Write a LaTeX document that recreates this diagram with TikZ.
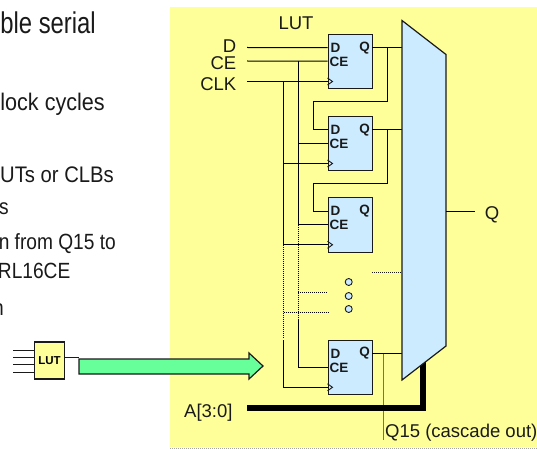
\documentclass[tikz,border=0pt]{standalone}
\usepackage{fontspec}
\setmainfont{Liberation Sans}
\newfontfamily\sidea[FakeStretch=0.795]{Liberation Sans}
\newfontfamily\sideb[FakeStretch=0.90]{Liberation Sans}
\newfontfamily\sidec[FakeStretch=0.87]{Liberation Sans}
\usetikzlibrary{calc}
\definecolor{bgyellow}{HTML}{FFFF99}
\definecolor{paleblue}{HTML}{CCEBFF}
\definecolor{arrowgreen}{HTML}{66FF99}
\definecolor{olivewire}{HTML}{77774A}
\definecolor{inkdark}{HTML}{1A1A1A}
\tikzset{
  x=1pt,y=-1pt,
  ffbox/.style={draw=inkdark,line width=1.2pt,fill=paleblue,minimum width=44.5pt,minimum height=54.5pt,inner sep=0pt,anchor=north west},
  wire/.style={draw=black,line width=1pt},
  dotwire/.style={draw=black,line width=1pt,dash pattern=on 1pt off 1pt},
  pinlabel/.style={font=\fontsize{13.5}{13.5}\selectfont\bfseries,inner sep=0pt,text=inkdark},
  biglabel/.style={font=\fontsize{18.5}{19}\selectfont,inner sep=0pt,text=inkdark},
  sidetext/.style={inner sep=0pt,anchor=base east,text=inkdark},
  dotcircle/.style={circle,draw=inkdark,line width=0.9pt,fill=paleblue,minimum size=7pt,inner sep=0pt},
}
\begin{document}
\begin{tikzpicture}
\useasboundingbox (0,0) rectangle (537,449);
\fill[white] (0,0) rectangle (537,449);
\fill[bgyellow] (170,7) rectangle (537,447);
\draw[gray!70,line width=0.8pt,dash pattern=on 1pt off 1pt] (170,448) -- (537,448);

% left text
\node[sidetext,font=\sidea\fontsize{30}{30}\selectfont] (t1) at (96,34) {ble serial};
\node[sidetext,font=\sideb\fontsize{24}{24}\selectfont] (t2) at (105,111) {lock cycles};
\node[sidetext,font=\sideb\fontsize{22.5}{23}\selectfont] (t3) at (114,182) {UTs or CLBs};
\node[sidetext,font=\sidec\fontsize{22}{23}\selectfont] (t4) at (9,214) {s};
\node[sidetext,font=\sidec\fontsize{22}{23}\selectfont] (t5) at (116,249) {n from Q15 to};
\node[sidetext,font=\sidec\fontsize{22}{23}\selectfont] (t6) at (70.5,278) {RL16CE};
\node[sidetext,font=\sidec\fontsize{22}{23}\selectfont] (t7) at (4,315) {n};

% small LUT
\coordinate (i1) at (13,350);
\coordinate (i2) at (13,357);
\coordinate (i3) at (13,364);
\coordinate (i4) at (13,372);
\coordinate (lo) at (79,357);
\node[draw=inkdark,line width=1.2pt,fill=bgyellow,minimum width=30pt,minimum height=37pt,inner sep=0pt,font=\fontsize{11.5}{12}\selectfont\bfseries] (lut) at (49.5,360.5) {LUT};
\foreach \c in {i1,i2,i3,i4} \draw[draw=inkdark,line width=0.8pt] (\c) -- (\c -| lut.west);
\draw[draw=inkdark,line width=0.8pt] (lo -| lut.east) -- (lo);

% green arrow
\draw[draw=inkdark,line width=1.2pt,fill=arrowgreen] (79,359) -- (249,359) -- (249,353) -- (263,366) -- (249,379) -- (249,374) -- (79,374) -- cycle;

% inputs
\node[biglabel,anchor=base east] (dl) at (236.5,53) {D};
\node[biglabel,anchor=base east] (cel) at (236.5,70) {CE};
\node[biglabel,anchor=base east] (clkl) at (236.5,91) {CLK};
\node[biglabel,anchor=base] (lutl) at (296,29.5) {LUT};
\coordinate (dsrc) at (247,47.5);
\coordinate (cesrc) at (247,61);
\coordinate (clksrc) at (247,81.5);

% mux
\coordinate (m1) at (402,20.5);
\coordinate (m2) at (446,54.5);
\coordinate (m3) at (446,346);
\coordinate (m4) at (402,380);
\coordinate (qout) at (475,211);
\coordinate (q15end) at (383,440);
\coordinate (asrc) at (247,408);
\coordinate (acorner) at (423,408);
\coordinate (mtap) at (423,361);

% flip flops
\foreach \n/\yy in {1/33.7,2/115.7,3/197,4/339.5}{
  \node[ffbox] (ff\n) at (327.5,\yy) {};
  \coordinate (ff\n d) at (327.5,\yy+14);
  \coordinate (ff\n ce) at (327.5,\yy+27.5);
  \coordinate (ff\n clk) at (327.5,\yy+47.8);
  \coordinate (ff\n q) at (372,\yy+14);
  \node[pinlabel] (ff\n dl) at (335.5,\yy+14) {D};
  \node[pinlabel] (ff\n cl) at (339,\yy+28) {CE};
  \node[pinlabel] (ff\n ql) at (364.5,\yy+14) {Q};
  \draw[draw=inkdark,line width=0.9pt] (327.5,\yy+44.3) -- (332.5,\yy+47.8) -- (327.5,\yy+51.3);
}

\draw[wire] (dsrc) -- (ff1d);
\draw[wire] (cesrc) -- (ff1ce);
\draw[wire] (clksrc) -- (ff1clk);

% CE bus and CLK bus
\coordinate (cebus) at (298,61);
\coordinate (clkbus) at (283.5,81.5);
\draw[wire] (cebus) -- (cebus |- ff3ce);
\draw[wire] (clkbus) -- (clkbus |- ff3clk);
\draw[wire] (cebus |- ff2ce) -- (ff2ce);
\draw[wire] (clkbus |- ff2clk) -- (ff2clk);
\draw[wire] (cebus |- ff3ce) -- (ff3ce);
\draw[wire] (clkbus |- ff3clk) -- (ff3clk);
\draw[dotwire] (cebus |- ff3ce) -- (298,319);
\draw[dotwire] (clkbus |- ff3clk) -- (283.5,338);
\draw[wire] (298,320) |- (ff4ce);
\draw[wire] (283.5,340) |- (ff4clk);
\draw[dotwire] (298,292) -- (327,292);
\draw[dotwire] (283.5,312) -- (328,312);

% Q chain
\draw[wire] (ff1q) -- (ff1q -| m1);
\draw[wire] (ff2q) -- (ff2q -| m1);
\draw[wire] (ff4q) -- (ff4q -| m1);
\draw[wire] (387,47.7) -- (387,102) -- (313,102) |- (ff2d);
\draw[wire] (387,129.7) -- (387,183.5) -- (313,183.5) |- (ff3d);
\draw[dotwire,draw=inkdark] (372,272) -- (402,272);

% dots
\node[dotcircle] (c1) at (348.7,282) {};
\node[dotcircle] (c2) at (348.7,296) {};
\node[dotcircle] (c3) at (348.7,309) {};

% Q15 and A
\draw[draw=olivewire,line width=1pt] (ff4q -| q15end) -- (q15end);
\draw[draw=black,line width=6pt] (asrc) -- (acorner) -- (mtap);

% mux body
\draw[draw=inkdark,line width=1.2pt,fill=paleblue] (m1) -- (m2) -- (m3) -- (m4) -- cycle;
\draw[wire] (qout -| m2) -- (qout);
\node[biglabel,anchor=base] (ql) at (492,219) {Q};
\node[biglabel,anchor=base west] (al) at (184,417) {A[3:0]};
\node[biglabel,anchor=base west] (q15l) at (385,437) {Q15 (cascade out)};
\end{tikzpicture}
\end{document}
